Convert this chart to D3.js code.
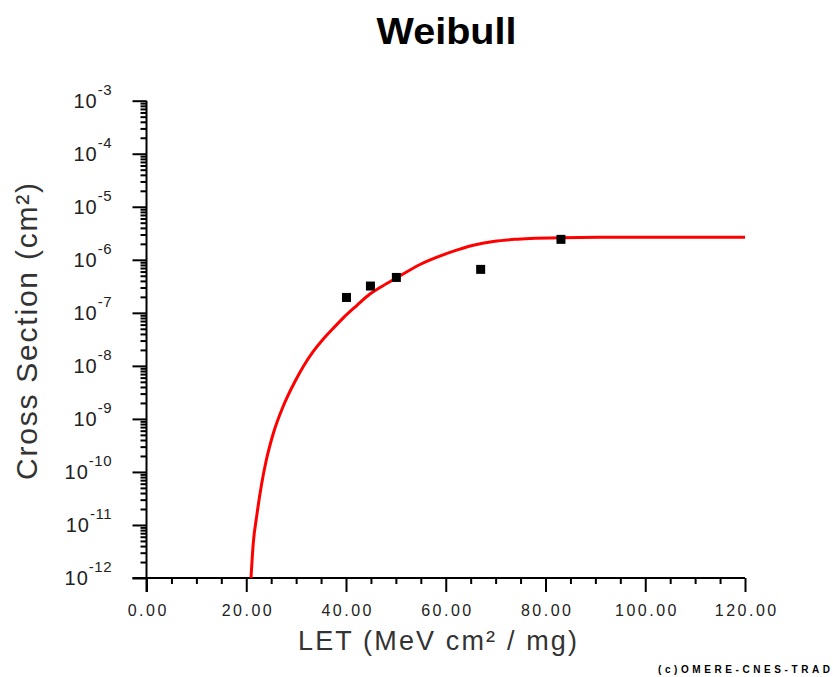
<!DOCTYPE html>
<html>
<head>
<meta charset="utf-8">
<script src="https://cdn.jsdelivr.net/npm/d3@7"></script>
<style>
  body { margin: 0; background: #fff; }
  svg { display: block; font-family: "Liberation Sans", Arial, sans-serif; }
</style>
</head>
<body>
<svg id="chart" width="833" height="677"></svg>
<script>
// measured points
const letData = [40.1, 44.9, 50.1, 67.0, 83.1];
const xsData = [1.95e-7, 3.2e-7, 4.65e-7, 6.6e-7, 2.43e-6];

// weibull fit curve
const fitLet = [20.95, 21.41, 22.1, 23.1, 23.96, 25.42, 27.43, 29.77, 31.44, 33.44, 35.45, 37.45,
                39.46, 42.15, 44.81, 46.82, 50.17, 54.84, 60.85, 65.52, 69.53, 73.89, 76.89,
                82.91, 90.93, 120];
const fitXs = [1.0e-12, 4.56e-12, 1.48e-11, 6.04e-11, 1.57e-10, 5.3e-10, 1.75e-9, 5.07e-9, 9.72e-9,
               1.87e-8, 3.21e-8, 5.13e-8, 8.05e-8, 1.37e-7, 2.26e-7, 3.0e-7, 4.57e-7, 8.15e-7,
               1.38e-6, 1.88e-6, 2.21e-6, 2.43e-6, 2.52e-6, 2.61e-6, 2.65e-6, 2.65e-6];

// axes
const xMajor = [0, 20, 40, 60, 80, 100, 120];
const xMinor = [5, 10, 15, 25, 30, 35, 45, 50, 55, 65, 70, 75, 85, 90, 95, 105, 110, 115];
const yExponents = [-3, -4, -5, -6, -7, -8, -9, -10, -11, -12];

const svg = d3.select("#chart");

const x = d3.scaleLinear().domain([0, 120]).range([146.5, 745]);
const y = d3.scaleLog().domain([1e-12, 1e-3]).range([578, 100.7]);

const yMinor = [];
yExponents.slice(1).forEach(function(e) {
    for (let m = 2; m <= 9; m++) yMinor.push(m * Math.pow(10, e));
});

// title
svg.append("text")
    .attr("x", 446.5).attr("y", 44)
    .attr("text-anchor", "middle")
    .attr("font-size", 37).attr("font-weight", "bold")
    .attr("textLength", 140).attr("lengthAdjust", "spacingAndGlyphs")
    .text("Weibull");

const g = svg.append("g");

// minor ticks
g.append("g")
    .attr("transform", "translate(0," + y(1e-12) + ")")
    .call(d3.axisBottom(x).tickValues(xMinor).tickSize(6).tickFormat(""))
    .call(a => a.select(".domain").remove());
g.append("g")
    .attr("transform", "translate(" + x(0) + ",0)")
    .call(d3.axisLeft(y).tickValues(yMinor).tickSize(6).tickFormat(""))
    .call(a => a.select(".domain").remove());

// major x ticks + labels
const xAxis = g.append("g")
    .attr("transform", "translate(0," + y(1e-12) + ")")
    .call(d3.axisBottom(x).tickValues(xMajor).tickSize(14).tickPadding(13).tickFormat(d3.format(".2f")))
    .call(a => a.select(".domain").remove());
xAxis.selectAll("text")
    .attr("font-size", 16)
    .attr("letter-spacing", 2.5)
    .attr("dx", 1.2)
    .attr("fill", "#222")
    .attr("font-family", "Liberation Sans, Arial, sans-serif");

// major y ticks, labels as 10^n
g.append("g")
    .attr("transform", "translate(" + x(0) + ",0)")
    .call(d3.axisLeft(y).tickValues(yExponents.map(e => Math.pow(10, e))).tickSize(14).tickFormat(""))
    .call(a => a.select(".domain").remove());

const yLab = svg.append("g").selectAll("text")
    .data(yExponents)
    .join("text")
    .attr("x", 112)
    .attr("y", e => y(Math.pow(10, e)) + 7)
    .attr("text-anchor", "end")
    .attr("fill", "#222");
yLab.append("tspan").attr("font-size", 20).attr("letter-spacing", 1).text("10");
yLab.append("tspan").attr("font-size", 15).attr("dy", -13).attr("letter-spacing", 0.5).text(e => e);

g.selectAll(".tick line").attr("stroke", "#000").attr("stroke-width", 2);

// axis lines
g.append("line")
    .attr("x1", x(0) - 14).attr("x2", x(120))
    .attr("y1", y(1e-12)).attr("y2", y(1e-12))
    .attr("stroke", "#000").attr("stroke-width", 2);
g.append("line")
    .attr("x1", x(0)).attr("x2", x(0))
    .attr("y1", y(1e-3)).attr("y2", y(1e-12) + 14)
    .attr("stroke", "#000").attr("stroke-width", 2);

// fit line
const line = d3.line()
    .x(function(d, i) { return x(fitLet[i]); })
    .y(function(d) { return y(d); })
    .curve(d3.curveMonotoneX);

g.append("path")
    .datum(fitXs)
    .attr("d", line)
    .attr("fill", "none")
    .attr("stroke", "#ff0000")
    .attr("stroke-width", 3)
    .attr("stroke-linejoin", "round");

// points
g.selectAll(".pt")
    .data(letData)
    .join("rect")
    .attr("class", "pt")
    .attr("x", d => x(d) - 4.5)
    .attr("y", (d, i) => y(xsData[i]) - 4.5)
    .attr("width", 9).attr("height", 9)
    .attr("fill", "#000");

// axis titles
svg.append("text")
    .attr("x", 437.5).attr("y", 650)
    .attr("text-anchor", "middle")
    .attr("font-size", 27)
    .attr("fill", "#333")
    .attr("textLength", 279).attr("lengthAdjust", "spacing")
    .text("LET (MeV cm² / mg)");

svg.append("text")
    .attr("transform", "translate(37,331.5) rotate(-90)")
    .attr("text-anchor", "middle")
    .attr("font-size", 30)
    .attr("fill", "#333")
    .attr("textLength", 297).attr("lengthAdjust", "spacing")
    .text("Cross Section (cm²)");

svg.append("text")
    .attr("x", 658).attr("y", 673)
    .attr("font-size", 10).attr("font-weight", "bold")
    .attr("textLength", 172).attr("lengthAdjust", "spacing")
    .text("(c)OMERE-CNES-TRAD");
</script>
</body>
</html>
